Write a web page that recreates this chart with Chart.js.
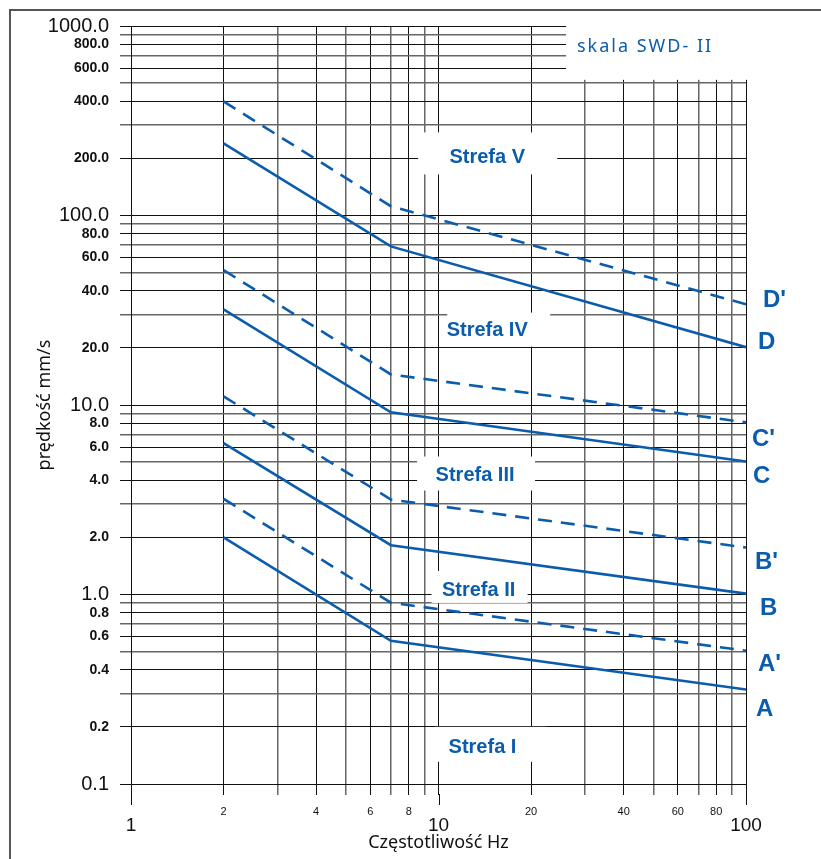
<!DOCTYPE html>
<html>
<head>
<meta charset="utf-8">
<title>skala SWD- II</title>
<script src="https://cdn.jsdelivr.net/npm/chart.js@4.4.1/dist/chart.umd.min.js"></script>
<style>
  html, body { margin: 0; padding: 0; background: #fff; }
  #wrap { position: relative; width: 821px; height: 859px; overflow: hidden; }
  #frame { position: absolute; left: 9px; top: 9px; width: 900px; height: 900px;
           border-left: 2px solid #555; border-top: 2px solid #555; }
  canvas { position: absolute; left: 0; top: 0; }
</style>
</head>
<body>
<div id="wrap">
  <div id="frame"></div>
  <canvas id="chart" width="821" height="859"></canvas>
</div>
<script>
// częstotliwości załamania krzywych (Hz)
const freqHz = [2, 7, 100];

// prędkość drgań mm/s dla każdej krzywej
const lineA  = [2.0, 0.57, 0.315];
const lineA2 = [3.2, 0.905, 0.505];
const lineB  = [6.3, 1.82, 1.01];
const lineB2 = [11.1, 3.17, 1.77];
const lineC  = [32, 9.15, 5.03];
const lineC2 = [51.5, 14.5, 8.1];
const lineD  = [240, 68.7, 20.2];
const lineD2 = [400, 112, 34];

const curveNames = ['A', "A'", 'B', "B'", 'C', "C'", 'D', "D'"];
const curveData = [lineA, lineA2, lineB, lineB2, lineC, lineC2, lineD, lineD2];

const xTicks = [1, 2, 3, 4, 5, 6, 7, 8, 9, 10, 20, 30, 40, 50, 60, 70, 80, 90, 100];
const yTicks = [0.1, 0.2, 0.3, 0.4, 0.5, 0.6, 0.7, 0.8, 0.9,
                1, 2, 3, 4, 5, 6, 7, 8, 9,
                10, 20, 30, 40, 50, 60, 70, 80, 90,
                100, 200, 300, 400, 500, 600, 700, 800, 900, 1000];

const zoneNames = ['Strefa I', 'Strefa II', 'Strefa III', 'Strefa IV', 'Strefa V'];
const scaleName = 'skala SWD- II';

const BLUE = '#0b5cad';
const SANS = '"Liberation Sans", Arial, sans-serif';
const HUMAN = '"Noto Sans", "Open Sans", sans-serif';

// where the zone names sit (data coords) and the white box round them (px)
const zoneSpots = [
  { x: 13.9, y: 0.159, box: [-47, 64, -19, 16] },
  { x: 13.5, y: 1.07,  box: [-47, 49, -18, 14] },
  { x: 13.15, y: 4.35, box: [-58, 60, -17, 17] },
  { x: 14.4, y: 25.3,  box: [-40, 63, -16, 18] },
  { x: 14.4, y: 205,   box: [-69, 70, -24, 18] }
];
// curve letters to the right of the plot: y value and left offset in px
const tagSpots = [
  { y: 0.253, dx: 10 }, { y: 0.437, dx: 12 }, { y: 0.863, dx: 14 }, { y: 1.51, dx: 9 },
  { y: 4.30, dx: 7 },   { y: 6.73, dx: 6 },   { y: 22.0, dx: 12 },  { y: 36.5, dx: 17 }
];

function sig(v) {
  const e = Math.floor(Math.log10(v) + 1e-9);
  return Math.round(v / Math.pow(10, e));
}
const labelled = s => s === 1 || s % 2 === 0;
const darkLine = s => s === 1 || s % 2 === 0;

const decor = {
  id: 'decor',
  beforeDatasetsDraw(chart) {
    const { ctx, chartArea: area, scales: { x, y } } = chart;
    ctx.save();
    // pusty narożnik na nazwę skali
    const cx = x.getPixelForValue(26);
    ctx.fillStyle = '#fff';
    ctx.fillRect(cx, area.top - 2, area.right + 3 - cx, y.getPixelForValue(520) - area.top + 2);

    ctx.font = 'bold 20px ' + SANS;
    ctx.textAlign = 'center';
    ctx.textBaseline = 'alphabetic';
    zoneSpots.forEach((z, i) => {
      const px = x.getPixelForValue(z.x), py = y.getPixelForValue(z.y);
      ctx.fillStyle = '#fff';
      ctx.fillRect(px + z.box[0], py + z.box[2], z.box[1] - z.box[0], z.box[3] - z.box[2]);
      ctx.fillStyle = BLUE;
      ctx.fillText(zoneNames[i], px, py + 7);
    });
    ctx.restore();
  },
  afterDatasetsDraw(chart) {
    const { ctx, chartArea: area, scales: { x, y } } = chart;
    ctx.save();
    ctx.fillStyle = BLUE;
    ctx.font = 'bold 24px ' + SANS;
    ctx.textAlign = 'left';
    ctx.textBaseline = 'alphabetic';
    tagSpots.forEach((t, i) => ctx.fillText(curveNames[i], area.right + t.dx, y.getPixelForValue(t.y) + 8.5));

    ctx.textBaseline = 'middle';
    ctx.font = '18px ' + HUMAN;
    ctx.letterSpacing = '2px';
    ctx.fillText(scaleName, x.getPixelForValue(28.2), y.getPixelForValue(772));
    ctx.letterSpacing = '0px';

    // dłuższe kreski przy dekadach
    ctx.strokeStyle = '#111';
    ctx.lineWidth = 1;
    [1, 10, 100].forEach(v => {
      const px = Math.round(x.getPixelForValue(v)) + 0.5;
      ctx.beginPath();
      ctx.moveTo(px, area.bottom + 10);
      ctx.lineTo(px, area.bottom + 21);
      ctx.stroke();
    });
    ctx.restore();
  }
};

const datasets = curveData.map((vals, i) => ({
  label: curveNames[i],
  data: freqHz.map((f, k) => ({ x: f, y: vals[k] })),
  borderColor: BLUE,
  borderWidth: 2.6,
  borderDash: curveNames[i].includes("'") ? [14, 9] : [],
  pointRadius: 0,
  tension: 0,
  fill: false
}));

new Chart(document.getElementById('chart'), {
  type: 'line',
  data: { datasets },
  options: {
    responsive: false,
    animation: false,
    events: [],
    layout: { padding: { left: 0, top: 26, right: 75, bottom: 0 } },
    plugins: { legend: { display: false }, tooltip: { enabled: false } },
    scales: {
      x: {
        type: 'logarithmic',
        min: 1, max: 100,
        afterBuildTicks: s => { s.ticks = xTicks.map(v => ({ value: v })); },
        afterFit: s => { s.height = 75; },
        border: { color: '#111', width: 1 },
        grid: {
          color: c => darkLine(sig(c.tick.value)) ? '#111' : '#666',
          lineWidth: c => darkLine(sig(c.tick.value)) ? 1 : 1.5,
          tickLength: 11
        },
        ticks: {
          autoSkip: false,
          maxRotation: 0,
          padding: 10,
          color: '#111',
          font: c => sig(c.tick.value) === 1
            ? { family: SANS, size: 19, lineHeight: 2.2 }
            : { family: SANS, size: 11, lineHeight: 1.2 },
          callback: v => {
            const s = sig(v);
            return (s === 1 || [2, 4, 6, 8].includes(s)) ? String(Math.round(v)) : '';
          }
        },
        title: {
          display: true,
          text: 'Częstotliwość Hz',
          color: '#111',
          font: { family: HUMAN, size: 18 },
          padding: { top: 0, bottom: 5 }
        }
      },
      y: {
        type: 'logarithmic',
        min: 0.1, max: 1000,
        afterBuildTicks: s => { s.ticks = yTicks.map(v => ({ value: v })); },
        afterFit: s => { s.width = 131; },
        border: { color: '#111', width: 1 },
        grid: {
          color: c => darkLine(sig(c.tick.value)) ? '#111' : '#666',
          lineWidth: c => darkLine(sig(c.tick.value)) ? 1 : 1.5,
          tickLength: 11
        },
        ticks: {
          autoSkip: false,
          padding: 11,
          color: '#111',
          font: c => sig(c.tick.value) === 1
            ? { family: SANS, size: 20 }
            : { family: SANS, size: 14, weight: 'bold' },
          callback: v => labelled(sig(v)) ? v.toFixed(1) : ''
        },
        title: {
          display: true,
          text: 'prędkość mm/s',
          color: '#111',
          font: { family: HUMAN, size: 18 },
          padding: { top: 34, bottom: 0 }
        }
      }
    }
  },
  plugins: [decor]
});
</script>
</body>
</html>
